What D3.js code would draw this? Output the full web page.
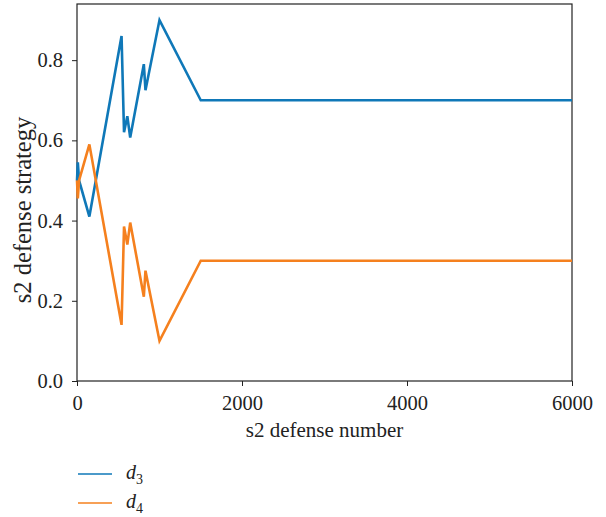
<!DOCTYPE html>
<html lang="en">
<head>
    <meta charset="UTF-8">
    <script src="https://d3js.org/d3.v7.min.js"></script>
    <title>s2 defense strategy</title>
    <style>
        body { margin: 0; background: white; }
        svg { display: block; }
        .tick line { stroke: #222; }
    </style>
</head>
<body>
    <div class="fig"></div>
    <script>
        // data
        const defenseNumber = [0, 10, 25, 150, 540, 570, 610, 645, 810, 830, 1000, 1500, 6000];
        const d3Values = [0.5, 0.545, 0.5, 0.41, 0.86, 0.62, 0.66, 0.607, 0.79, 0.725, 0.90, 0.70, 0.70];
        const d4Values = [0.5, 0.455, 0.5, 0.59, 0.14, 0.385, 0.34, 0.395, 0.21, 0.275, 0.10, 0.30, 0.30];
        const xTicks = [0, 2000, 4000, 6000];
        const yTicks = [0.0, 0.2, 0.4, 0.6, 0.8];
        const seriesNames = ["3", "4"];
        const colors = ["#0f78b8", "#f5801e"];

        const serif = "'Liberation Serif', 'DejaVu Serif', serif";
        const width = 606, height = 517;
        const margin = { top: 4, right: 34, bottom: 136, left: 77 };

        const svg = d3.select(".fig").append("svg")
            .attr("width", width)
            .attr("height", height)
            .style("font-family", serif);

        const x = d3.scaleLinear().domain([0, 6000]).range([margin.left, width - margin.right]);
        const y = d3.scaleLinear().domain([0, 0.94]).range([height - margin.bottom, margin.top]);

        // frame
        svg.append("rect")
            .attr("x", x(0)).attr("y", y(0.94))
            .attr("width", x(6000) - x(0)).attr("height", y(0) - y(0.94))
            .attr("fill", "none").attr("stroke", "#222").attr("stroke-width", 1.2);

        const styleTicks = g => {
            g.select(".domain").remove();
            g.attr("font-family", serif).attr("font-size", 20.5);
            g.selectAll(".tick text").style("font-family", serif).attr("fill", "#222");
        };

        svg.append("g")
            .attr("transform", `translate(0,${y(0)})`)
            .call(d3.axisBottom(x).tickValues(xTicks).tickFormat(d3.format("d")).tickSize(5).tickPadding(9))
            .call(styleTicks);

        svg.append("g")
            .attr("transform", `translate(${x(0)},0)`)
            .call(d3.axisLeft(y).tickValues(yTicks).tickFormat(d3.format(".1f")).tickSize(5).tickPadding(9))
            .call(styleTicks);

        // axis labels
        svg.append("text")
            .attr("x", (x(0) + x(6000)) / 2)
            .attr("y", 437)
            .attr("text-anchor", "middle")
            .attr("font-size", 21)
            .attr("fill", "#222")
            .text("s2 defense number");

        svg.append("text")
            .attr("transform", `translate(31,210) rotate(-90)`)
            .attr("text-anchor", "middle")
            .attr("font-size", 24.5)
            .attr("fill", "#222")
            .text("s2 defense strategy");

        // lines
        const line = d3.line()
            .x((d, i) => x(defenseNumber[i]))
            .y(d => y(d));

        [d3Values, d4Values].forEach((vals, k) => {
            svg.append("path")
                .datum(vals)
                .attr("d", line)
                .attr("fill", "none")
                .attr("stroke", colors[k])
                .attr("stroke-width", 2.6)
                .attr("stroke-linejoin", "miter");
        });

        // legend
        const legend = svg.append("g");
        seriesNames.forEach((s, k) => {
            const ly = 474 + k * 29;
            legend.append("line")
                .attr("x1", 78).attr("x2", 112)
                .attr("y1", ly).attr("y2", ly)
                .attr("stroke", colors[k])
                .attr("stroke-width", 1.6);
            const t = legend.append("text")
                .attr("x", 126)
                .attr("y", ly + 5)
                .attr("font-size", 20)
                .attr("fill", "#222");
            t.append("tspan").attr("font-style", "italic").text("d");
            t.append("tspan").attr("font-size", 14).attr("dy", 5).text(s);
        });
    </script>
</body>
</html>
